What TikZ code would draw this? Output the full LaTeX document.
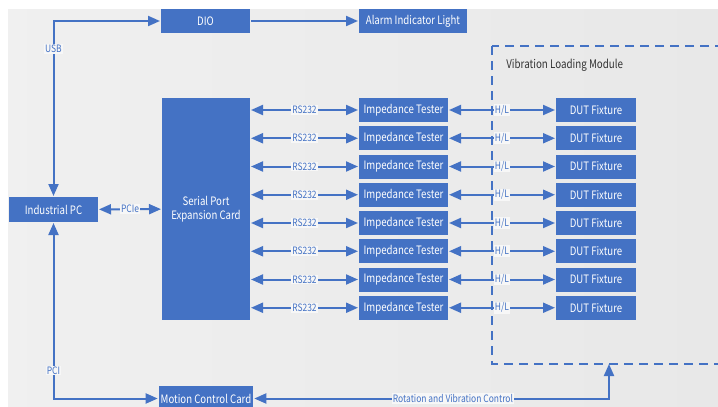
\documentclass[tikz,border=0pt]{standalone}
\usepackage{fontspec}
\setmainfont{Noto Sans CJK SC}[FakeStretch=0.83]
\usetikzlibrary{arrows.meta}
\definecolor{boxblue}{HTML}{4472C4}

\begin{document}
\begin{tikzpicture}[
  x=1pt,y=-1pt,
  >={Triangle[length=12pt,width=10pt]},
  line width=2pt,
  draw=boxblue,
  block/.style={rectangle,fill=boxblue,draw=none,text=white,minimum height=24pt,inner sep=2pt,font=\fontsize{11.6}{13.5}\selectfont},
  tester node/.style={block,minimum width=89pt},
  dut node/.style={block,minimum width=80pt},
  edge label/.style={fill=black!3,inner sep=1pt,text=boxblue,font=\fontsize{10.2}{12}\selectfont},
  module box/.style={dash pattern=on 9pt off 6pt,line width=2pt},
]
\useasboundingbox (0,0) rectangle (718,407);
\shade[left color=black!6,middle color=black!1,right color=black!9] (8,9) rectangle (718,407);

\node[block,minimum width=89pt] (dio) at (205.5,21) {DIO};
\node[block,minimum width=108pt] (alarm) at (413,21) {Alarm Indicator Light};
\node[block,minimum width=89pt,minimum height=25pt] (pc) at (53.5,209.5) {Industrial PC};
\node[block,minimum width=88pt,minimum height=222pt,align=center] (serial) at (206,209) {Serial Port\\Expansion Card};
\node[block,minimum width=88pt,minimum height=25pt] (motion) at (206,398.5) {Motion Control Card};

\draw[module box] (492,46) rectangle (740,364);
\node[anchor=west,text=black!80,font=\fontsize{11.8}{14}\selectfont] (vlmlabel) at (502,65) {Vibration Loading Module};
\coordinate (vlm) at (609,364);

\node[tester node] (t1) at (403.5,110) {Impedance Tester};
\node[tester node] (t2) at (403.5,138.25) {Impedance Tester};
\node[tester node] (t3) at (403.5,166.5) {Impedance Tester};
\node[tester node] (t4) at (403.5,194.75) {Impedance Tester};
\node[tester node] (t5) at (403.5,223) {Impedance Tester};
\node[tester node] (t6) at (403.5,251.25) {Impedance Tester};
\node[tester node] (t7) at (403.5,279.5) {Impedance Tester};
\node[tester node] (t8) at (403.5,307.75) {Impedance Tester};

\node[dut node] (d1) at (596,110) {DUT Fixture};
\node[dut node] (d2) at (596,138.25) {DUT Fixture};
\node[dut node] (d3) at (596,166.5) {DUT Fixture};
\node[dut node] (d4) at (596,194.75) {DUT Fixture};
\node[dut node] (d5) at (596,223) {DUT Fixture};
\node[dut node] (d6) at (596,251.25) {DUT Fixture};
\node[dut node] (d7) at (596,279.5) {DUT Fixture};
\node[dut node] (d8) at (596,307.75) {DUT Fixture};

\draw[->] (dio) -- (alarm);
\draw[<->] (dio.west) -| node[edge label,pos=0.58] {USB} (pc.north);
\draw[<->] (pc.south) |- node[edge label,pos=0.42] {PCI} (motion.west);
\draw[<->] (pc) -- node[edge label] {PCIe} (serial);
\draw[<->] (motion.east) -| node[edge label,pos=0.28] {Rotation and Vibration Control} (vlm);

\draw[<->] (serial.east |- t1) -- node[edge label] {RS232} (t1);
\draw[<->] (serial.east |- t2) -- node[edge label] {RS232} (t2);
\draw[<->] (serial.east |- t3) -- node[edge label] {RS232} (t3);
\draw[<->] (serial.east |- t4) -- node[edge label] {RS232} (t4);
\draw[<->] (serial.east |- t5) -- node[edge label] {RS232} (t5);
\draw[<->] (serial.east |- t6) -- node[edge label] {RS232} (t6);
\draw[<->] (serial.east |- t7) -- node[edge label] {RS232} (t7);
\draw[<->] (serial.east |- t8) -- node[edge label] {RS232} (t8);

\draw[<->] (t1) -- node[edge label] {H/L} (d1);
\draw[<->] (t2) -- node[edge label] {H/L} (d2);
\draw[<->] (t3) -- node[edge label] {H/L} (d3);
\draw[<->] (t4) -- node[edge label] {H/L} (d4);
\draw[<->] (t5) -- node[edge label] {H/L} (d5);
\draw[<->] (t6) -- node[edge label] {H/L} (d6);
\draw[<->] (t7) -- node[edge label] {H/L} (d7);
\draw[<->] (t8) -- node[edge label] {H/L} (d8);
\end{tikzpicture}
\end{document}
